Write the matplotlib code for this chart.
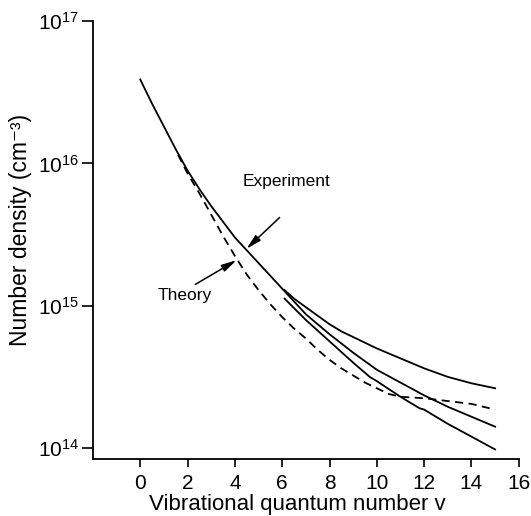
import numpy as np
import matplotlib.pyplot as plt

plt.rcParams['font.family'] = ['Liberation Sans', 'DejaVu Sans']
plt.rcParams['mathtext.fontset'] = 'custom'
plt.rcParams['mathtext.rm'] = 'Liberation Sans'

# experiment, main curve (log10 of number density)
v_exp = [0, 0.5, 1, 1.5, 2, 2.5, 3, 3.5, 4, 4.5, 5, 5.5, 6, 6.5, 7, 8, 9, 10,
         11, 12, 13, 14, 15]
n_exp = [16.59, 16.42, 16.26, 16.10, 15.95, 15.82, 15.70, 15.59, 15.48, 15.39,
         15.30, 15.21, 15.12, 15.03, 14.94, 14.80, 14.67, 14.55, 14.46, 14.37,
         14.29, 14.22, 14.15]

# lower solid curve starting at v = 6
v_low = [6.1, 7, 8, 9, 9.7, 10, 11, 11.8, 12, 13, 14, 15]
n_low = [15.05, 14.90, 14.75, 14.60, 14.50, 14.47, 14.36, 14.28, 14.27, 14.17,
         14.08, 13.99]

# upper solid curve starting at v = 6
v_top = [6.1, 6.5, 7, 7.5, 8, 8.5, 9, 9.5, 10, 11, 12, 13, 14, 15]
n_top = [15.11, 15.05, 14.99, 14.93, 14.87, 14.82, 14.78, 14.74, 14.70, 14.63,
         14.56, 14.50, 14.455, 14.42]

# theory (dashed)
v_th = [1.6, 2, 2.5, 3, 3.5, 4, 4.5, 5, 5.5, 6, 6.5, 7, 7.5, 8, 8.5, 9, 9.5,
        10, 10.5, 11, 12, 13, 14, 15]
n_th = [16.06, 15.93, 15.79, 15.64, 15.49, 15.35, 15.22, 15.11, 15.01, 14.92,
        14.84, 14.77, 14.69, 14.62, 14.56, 14.51, 14.46, 14.42, 14.38, 14.36,
        14.35, 14.33, 14.31, 14.27]

x_ticks = [0, 2, 4, 6, 8, 10, 12, 14, 16]
y_ticks = [14, 15, 16, 17]

fig = plt.figure(figsize=(5.31, 5.16), dpi=100)
ax = fig.add_axes([0.175, 0.1105, 0.802, 0.8485])

lw = 1.3
ax.plot(v_exp, 10.0 ** np.array(n_exp), color='black', lw=lw)
ax.plot(v_low, 10.0 ** np.array(n_low), color='black', lw=lw)
ax.plot(v_top, 10.0 ** np.array(n_top), color='black', lw=lw)
ax.plot(v_th, 10.0 ** np.array(n_th), color='black', lw=lw, linestyle=(0, (4.5, 3)))

ax.set_yscale('log')
ax.set_xlim(-2, 16)
ax.set_ylim(10 ** 13.923, 1e17)

ax.set_xticks(x_ticks)
ax.set_xticklabels([str(t) for t in x_ticks])
ax.set_yticks([10.0 ** e for e in y_ticks])
ax.set_yticklabels([r'$\mathregular{10^{%d}}$' % e for e in y_ticks])
ax.yaxis.set_minor_locator(plt.NullLocator())

ax.spines['top'].set_visible(False)
ax.spines['right'].set_visible(False)
for s in ['left', 'bottom']:
    ax.spines[s].set_linewidth(1.3)

ax.tick_params(axis='x', direction='out', length=6, width=1.2, labelsize=15, pad=5)
ax.tick_params(axis='y', direction='out', length=8, width=1.2, labelsize=15, pad=2)

ax.set_xlabel('Vibrational quantum number v', fontsize=16)
ax.xaxis.set_label_coords(0.479, -0.079)
ax.set_ylabel('Number density (cm⁻³)', fontsize=16.5)
ax.yaxis.set_label_coords(-0.142, 0.523)

arrow = dict(arrowstyle='-|>,head_length=0.9,head_width=0.22', color='black',
             lw=1.1, shrinkA=0, shrinkB=0)
ax.annotate('', xy=(4.49, 10 ** 15.40), xytext=(5.89, 10 ** 15.62), arrowprops=arrow)
ax.annotate('', xy=(4.07, 10 ** 15.32), xytext=(2.33, 10 ** 15.15), arrowprops=arrow)
ax.text(6.2, 10 ** 15.87, 'Experiment', fontsize=12.5, ha='center', va='center')
ax.text(1.9, 10 ** 15.07, 'Theory', fontsize=12.5, ha='center', va='center')

fig.savefig('out.png', dpi=100)
